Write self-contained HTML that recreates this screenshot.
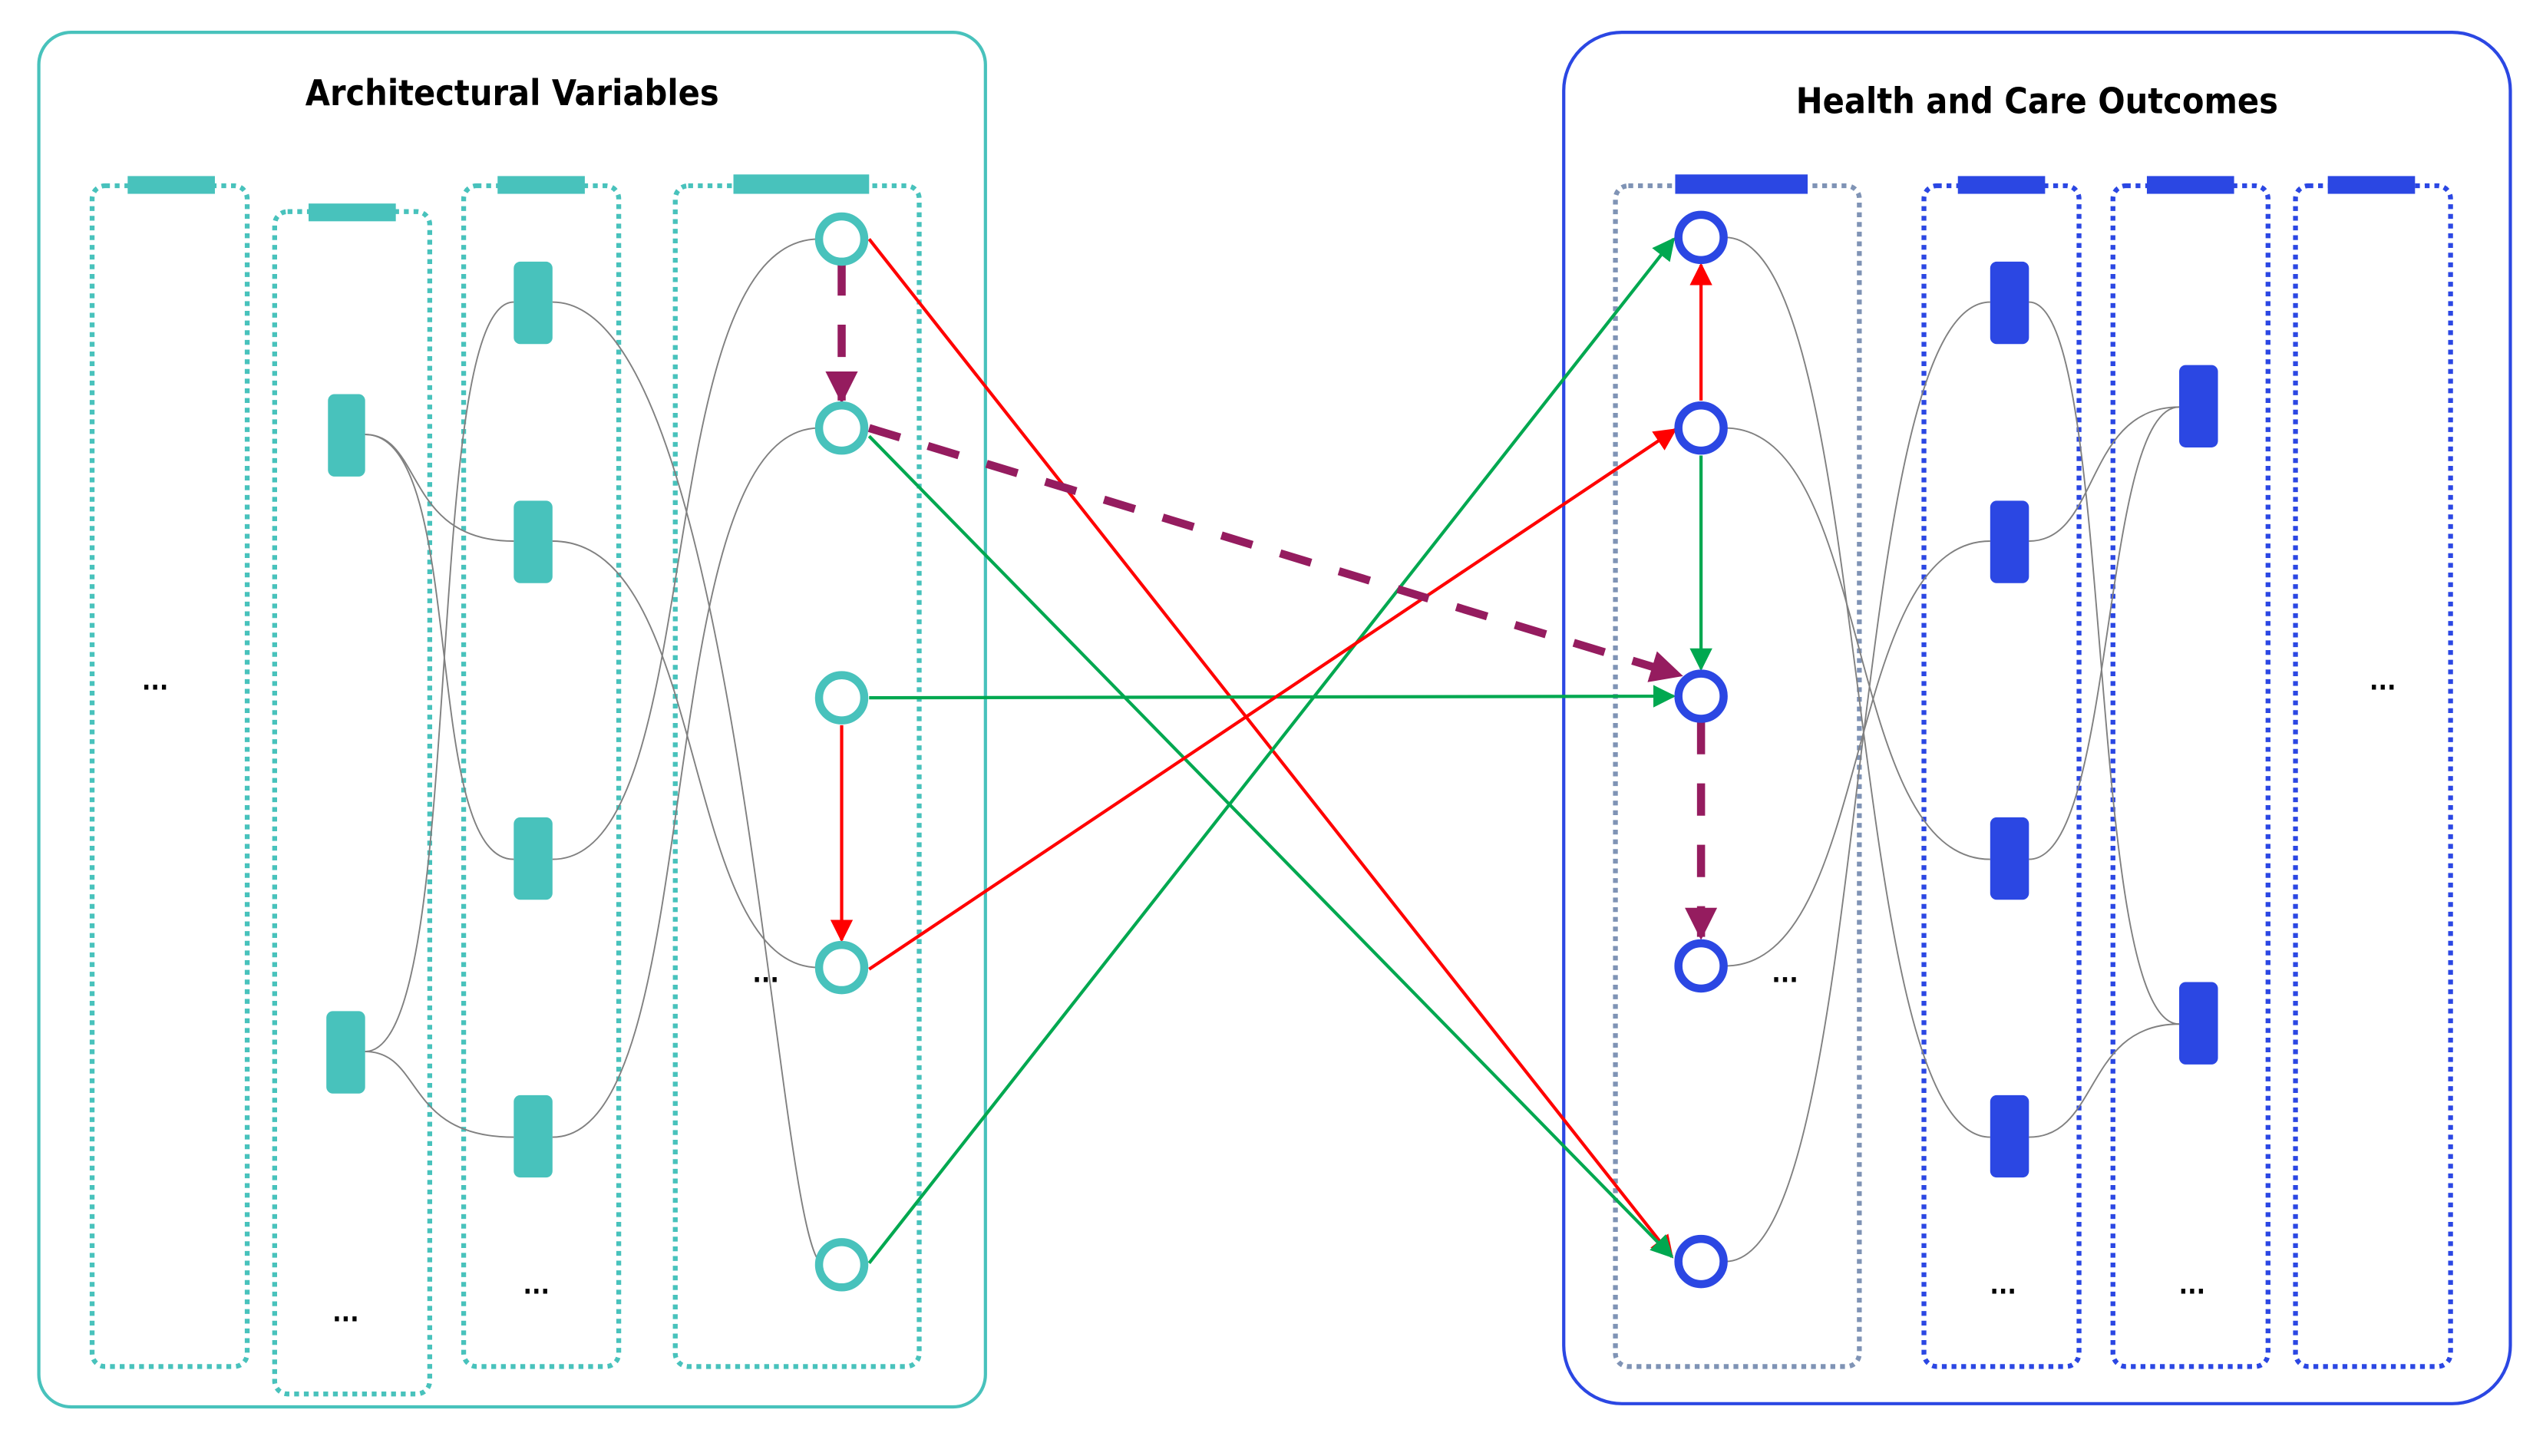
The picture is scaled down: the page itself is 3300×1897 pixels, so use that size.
<!DOCTYPE html>
<html><head><meta charset="utf-8"><style>
html,body{margin:0;padding:0;background:#fff;width:3300px;height:1897px;overflow:hidden}
svg{display:block}
text{font-family:"DejaVu Sans Condensed","DejaVu Sans","Liberation Sans",sans-serif;font-weight:bold;fill:#000}
</style></head><body>
<svg width="3300" height="1897" viewBox="0 0 1568 901.4" xmlns="http://www.w3.org/2000/svg">
<defs>
<marker id="mp" viewBox="0 0 10 10" refX="9" refY="5" markerWidth="4" markerHeight="4" orient="auto" markerUnits="strokeWidth"><path d="M0,0 L10,5 L0,10 z" fill="#951C5F"/></marker>
<marker id="mr" viewBox="0 0 10 10" refX="9" refY="5" markerWidth="7" markerHeight="7" orient="auto" markerUnits="strokeWidth"><path d="M0,0 L10,5 L0,10 z" fill="#FF0000"/></marker>
<marker id="mg" viewBox="0 0 10 10" refX="9" refY="5" markerWidth="7" markerHeight="7" orient="auto" markerUnits="strokeWidth"><path d="M0,0 L10,5 L0,10 z" fill="#00A850"/></marker>
</defs>
<rect width="1568" height="902" fill="#fff"/>
<rect x="24" y="20" width="586" height="851" rx="20" fill="none" stroke="#48C2BC" stroke-width="2"/>
<rect x="968" y="20" width="586" height="849" rx="36" fill="none" stroke="#2B47E3" stroke-width="2"/>
<text x="317" y="65" font-size="22" text-anchor="middle">Architectural Variables</text>
<text x="1261" y="70" font-size="22" text-anchor="middle">Health and Care Outcomes</text>
<g fill="none" stroke="#48C2BC" stroke-width="3" stroke-dasharray="3,3">
<rect x="57" y="115" width="96" height="731" rx="8"/>
<rect x="170" y="131" width="96" height="732" rx="8"/>
<rect x="287" y="115" width="96" height="731" rx="8"/>
<rect x="418" y="115" width="151" height="731" rx="8"/>
</g>
<g fill="#48C2BC">
<rect x="79" y="109" width="54" height="11"/>
<rect x="191" y="126" width="54" height="11"/>
<rect x="308" y="109" width="54" height="11"/>
<rect x="454" y="108" width="84" height="12"/>
<rect x="203" y="244" width="23" height="51" rx="4"/>
<rect x="202" y="626" width="24" height="51" rx="4"/>
<rect x="318" y="162" width="24" height="51" rx="4"/>
<rect x="318" y="310" width="24" height="51" rx="4"/>
<rect x="318" y="506" width="24" height="51" rx="4"/>
<rect x="318" y="678" width="24" height="51" rx="4"/>
</g>
<rect x="1000" y="115" width="151" height="731" rx="8" fill="none" stroke="#7F93B5" stroke-width="3" stroke-dasharray="3,3"/>
<g fill="none" stroke="#2B47E3" stroke-width="3" stroke-dasharray="3,3">
<rect x="1191" y="115" width="96" height="731" rx="8"/>
<rect x="1308" y="115" width="96" height="731" rx="8"/>
<rect x="1421" y="115" width="96" height="731" rx="8"/>
</g>
<g fill="#2B47E3">
<rect x="1037" y="108" width="82" height="12"/>
<rect x="1212" y="109" width="54" height="11"/>
<rect x="1329" y="109" width="54" height="11"/>
<rect x="1441" y="109" width="54" height="11"/>
<rect x="1232" y="162" width="24" height="51" rx="4"/>
<rect x="1232" y="310" width="24" height="51" rx="4"/>
<rect x="1232" y="506" width="24" height="51" rx="4"/>
<rect x="1232" y="678" width="24" height="51" rx="4"/>
<rect x="1349" y="226" width="24" height="51" rx="4"/>
<rect x="1349" y="608" width="24" height="51" rx="4"/>
</g>
<g fill="none" stroke="#808080" stroke-width="0.9">
<path d="M226,269 C262,269 250,335 318,335"/>
<path d="M226,269 C290,269 260,532 318,532"/>
<path d="M226,651 C262,651 250,704 318,704"/>
<path d="M226,651 C290,651 260,187 318,187"/>
<path d="M342,187 C460,187 480,783 510,783"/>
<path d="M342,335 C440,335 420,599 507,599"/>
<path d="M342,532 C440,532 400,148 507,148"/>
<path d="M342,704 C440,704 400,265 507,265"/>
<path d="M1068,147 C1160,147 1140,704 1232,704"/>
<path d="M1068,265 C1160,265 1140,532 1232,532"/>
<path d="M1068,598 C1160,598 1140,335 1232,335"/>
<path d="M1068,781 C1160,781 1140,187 1232,187"/>
<path d="M1256,187 C1310,187 1290,634 1349,634"/>
<path d="M1256,335 C1300,335 1290,252 1349,252"/>
<path d="M1256,532 C1310,532 1300,252 1349,252"/>
<path d="M1256,704 C1300,704 1290,634 1349,634"/>
</g>
<g fill="none" stroke-width="2">
<line x1="538" y1="148" x2="1035" y2="778" stroke="#FF0000" marker-end="url(#mr)"/>
<line x1="538" y1="270" x2="1035" y2="778" stroke="#00A850" marker-end="url(#mg)"/>
<line x1="538" y1="432" x2="1036" y2="431" stroke="#00A850" marker-end="url(#mg)"/>
<line x1="538" y1="782" x2="1036" y2="148" stroke="#00A850" marker-end="url(#mg)"/>
<line x1="538" y1="600" x2="1037" y2="266" stroke="#FF0000" marker-end="url(#mr)"/>
<line x1="521" y1="449" x2="521" y2="582" stroke="#FF0000" marker-end="url(#mr)"/>
<line x1="1053" y1="248" x2="1053" y2="164" stroke="#FF0000" marker-end="url(#mr)"/>
<line x1="1053" y1="282" x2="1053" y2="414" stroke="#00A850" marker-end="url(#mg)"/>
</g>
<g fill="none" stroke="#951C5F" stroke-width="5" stroke-dasharray="20,18">
<line x1="521" y1="163" x2="521" y2="248" marker-end="url(#mp)"/>
<line x1="538" y1="265" x2="1040" y2="418" marker-end="url(#mp)"/>
<line x1="1053" y1="447" x2="1053" y2="580" marker-end="url(#mp)"/>
</g>
<g fill="#fff" stroke="#48C2BC" stroke-width="5">
<circle cx="521" cy="148" r="14"/>
<circle cx="521" cy="265" r="14"/>
<circle cx="521" cy="432" r="14"/>
<circle cx="521" cy="599" r="14"/>
<circle cx="521" cy="783" r="14"/>
</g>
<g fill="#fff" stroke="#2B47E3" stroke-width="5">
<circle cx="1053" cy="147" r="14"/>
<circle cx="1053" cy="265" r="14"/>
<circle cx="1053" cy="431" r="14"/>
<circle cx="1053" cy="598" r="14"/>
<circle cx="1053" cy="781" r="14"/>
</g>
<g font-size="16" text-anchor="middle">
<text x="96" y="427">...</text>
<text x="214" y="818">...</text>
<text x="332" y="801">...</text>
<text x="474" y="608">...</text>
<text x="1105" y="608">...</text>
<text x="1240" y="801">...</text>
<text x="1357" y="801">...</text>
<text x="1475" y="427">...</text>
</g>
</svg>
</body></html>
